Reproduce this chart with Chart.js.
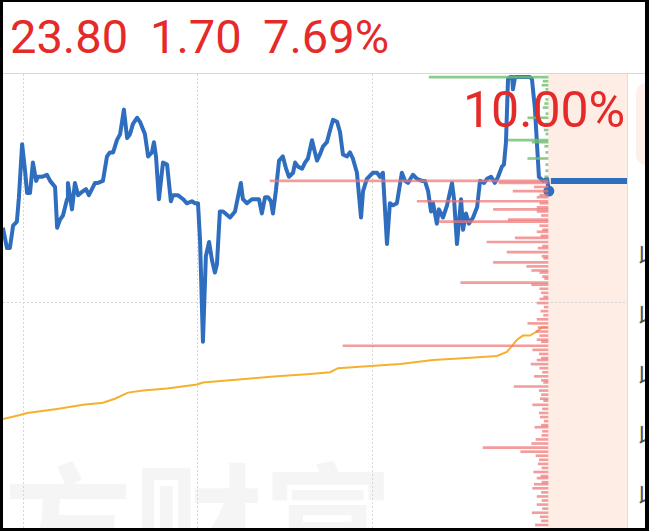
<!DOCTYPE html>
<html>
<head>
<meta charset="utf-8">
<script src="https://cdn.jsdelivr.net/npm/chart.js@4.4.1/dist/chart.umd.min.js"></script>
<style>
    html, body { margin: 0; padding: 0; background: #000; }
    #frame { position: absolute; left: 3px; top: 2px; width: 642px; height: 526px; background: #fff; overflow: hidden; font-family: Roboto, sans-serif; }
    .quote { position: absolute; top: 11px; font-size: 47px; line-height: 47px; color: #e52a2a; white-space: nowrap; }
    #limit { position: absolute; left: 460px; top: 83px; font-size: 50px; line-height: 50px; color: #e52a2a; white-space: nowrap; }
    #sep { position: absolute; left: 0; top: 71px; width: 642px; height: 1px; background: #d8d8d8; }
    #edge { position: absolute; left: 624px; top: 72px; width: 1px; height: 454px; background: #dedede; }
    #tag { position: absolute; left: 633px; top: 81px; width: 40px; height: 82px; border-radius: 10px; background: #fdefe9; }
    .side { position: absolute; left: 634px; font-size: 24px; line-height: 24px; color: #555; font-family: "Noto Sans CJK SC", sans-serif; }
    #chart { position: absolute; left: 0; top: 72px; }
</style>
</head>
<body>
<div id="frame">
    <span class="quote" id="qPrice" style="left:7px"></span>
    <span class="quote" id="qChange" style="left:147px"></span>
    <span class="quote" id="qPct" style="left:260px"></span>
    <div id="sep"></div>
    <canvas id="chart" width="624" height="454"></canvas>
    <div id="edge"></div>
    <div id="tag"></div>
    <div id="limit"></div>
</div>
<script>
// quote shown in the header
const lastPrice = 23.80;
const prevClose = 22.10;
const change = 1.70;
const changePct = 7.69;
const limitPct = 10.00;

// intraday price line (minutes from the first grid line, price)
const priceMinutes = [
    -6.9, -5.5, -4.5, -3.4, -2.1, -1.4, -0.3, 0.7, 1.4, 2.4,
    3.4, 4.5, 5.1, 6.5, 8.2, 9.3, 11.0, 11.7, 12.7, 13.7,
    15.1, 15.4, 16.8, 17.8, 18.9, 20.6, 21.6, 22.6, 24.7, 25.7,
    27.4, 28.8, 29.8, 30.9, 32.2, 33.3, 34.6, 35.7, 36.7, 37.7,
    39.1, 40.1, 41.8, 42.9, 44.2, 44.9, 45.6, 46.6, 48.0, 49.4,
    50.7, 51.4, 53.1, 54.9, 56.2, 57.9, 59.0, 60.0, 60.7, 61.7,
    62.7, 63.8, 64.8, 65.8, 66.5, 67.5, 68.6, 71.0, 72.7, 73.7,
    74.7, 75.4, 76.8, 78.5, 80.2, 80.9, 81.9, 83.0, 84.0, 85.0,
    85.7, 86.7, 87.8, 89.1, 90.2, 91.2, 92.6, 93.3, 94.3, 95.7,
    96.7, 97.7, 99.1, 100.1, 100.8, 101.8, 102.9, 104.2, 105.3, 106.3,
    107.7, 108.7, 109.7, 111.1, 112.1, 113.1, 114.5, 115.9, 116.6, 117.9,
    120.0, 121.4, 122.4, 123.4, 124.8, 125.8, 126.9, 128.2, 129.9, 131.0,
    132.0, 133.7, 135.1, 136.8, 137.8, 138.9, 139.9, 140.6, 141.9, 142.6,
    144.0, 145.4, 147.1, 147.8, 148.8, 150.2, 150.9, 151.9, 152.9, 154.3,
    155.7, 156.7, 158.1, 159.1, 160.5, 161.8, 162.9, 164.2, 164.9, 165.6,
    166.3, 167.0, 167.7, 168.0, 168.7, 169.7, 171.8, 173.8, 174.5, 175.5,
    176.2, 176.9, 178.3, 179.7, 180.3
];
const prices = [
    23.57, 23.47, 23.47, 23.58, 23.60, 23.72, 23.98, 23.85, 23.74, 23.74,
    23.89, 23.80, 23.82, 23.82, 23.83, 23.80, 23.77, 23.57, 23.61, 23.63,
    23.71, 23.79, 23.66, 23.79, 23.73, 23.75, 23.76, 23.73, 23.79, 23.79,
    23.80, 23.92, 23.94, 23.94, 24.00, 24.03, 24.15, 24.01, 24.03, 24.08,
    24.11, 24.09, 24.03, 23.92, 23.94, 23.99, 23.92, 23.71, 23.89, 23.88,
    23.70, 23.73, 23.73, 23.71, 23.69, 23.70, 23.69, 23.69, 23.51, 23.01,
    23.43, 23.50, 23.41, 23.35, 23.39, 23.65, 23.65, 23.62, 23.65, 23.72,
    23.79, 23.71, 23.69, 23.71, 23.71, 23.71, 23.64, 23.72, 23.72, 23.70,
    23.64, 23.75, 23.90, 23.92, 23.86, 23.82, 23.84, 23.89, 23.87, 23.86,
    23.89, 23.91, 24.00, 23.94, 23.90, 23.93, 23.97, 23.99, 24.05, 24.10,
    24.09, 24.04, 23.93, 23.92, 23.94, 23.91, 23.84, 23.62, 23.75, 23.81,
    23.84, 23.84, 23.82, 23.84, 23.49, 23.69, 23.68, 23.69, 23.84, 23.80,
    23.79, 23.83, 23.81, 23.80, 23.80, 23.75, 23.65, 23.69, 23.59, 23.66,
    23.62, 23.68, 23.79, 23.71, 23.49, 23.71, 23.56, 23.64, 23.59, 23.62,
    23.67, 23.80, 23.79, 23.81, 23.82, 23.79, 23.82, 23.87, 23.88, 23.99,
    24.30, 24.31, 24.31, 24.25, 24.31, 24.31, 24.31, 24.31, 24.30, 24.16,
    23.99, 23.82, 23.80, 23.81, 23.75
];

// average price line
const avgMinutes = [
    -6.9, -1.0, 1.4, 11.7, 20.6, 27.4, 31.5, 36.0, 41.1, 49.4,
    59.7, 61.7, 69.9, 87.1, 97.4, 105.3, 108.0, 117.9, 129.3, 140.6,
    152.2, 162.5, 165.9, 167.7, 169.4, 171.4, 173.8, 176.2, 177.9, 180.0
];
const avgPrices = [
    22.63, 22.65, 22.66, 22.68, 22.70, 22.71, 22.73, 22.76, 22.77, 22.78,
    22.80, 22.81, 22.82, 22.84, 22.85, 22.86, 22.88, 22.89, 22.90, 22.92,
    22.93, 22.94, 22.96, 22.99, 23.02, 23.04, 23.04, 23.06, 23.08, 23.08
];

// chip distribution below the last price (price, size)
const redChipPrices = [
    23.80, 23.79, 23.77, 23.75, 23.73, 23.72, 23.70, 23.69, 23.67, 23.66,
    23.65, 23.63, 23.61, 23.60, 23.58, 23.56, 23.55, 23.53, 23.52, 23.50,
    23.48, 23.47, 23.45, 23.43, 23.42, 23.40, 23.38, 23.36, 23.35, 23.33,
    23.32, 23.30, 23.29, 23.27, 23.25, 23.23, 23.22, 23.20, 23.18, 23.16,
    23.14, 23.12, 23.10, 23.08, 23.06, 23.04, 23.02, 23.01, 22.99, 22.97,
    22.95, 22.93, 22.92, 22.90, 22.88, 22.86, 22.84, 22.82, 22.81, 22.79,
    22.77, 22.75, 22.73, 22.72, 22.70, 22.68, 22.66, 22.64, 22.62, 22.60,
    22.59, 22.57, 22.55, 22.53, 22.51, 22.49, 22.47, 22.45, 22.43, 22.41,
    22.39, 22.37, 22.35, 22.34, 22.32, 22.31, 22.29, 22.27, 22.25, 22.23,
    22.21, 22.19, 22.17, 22.15, 22.13, 22.11
];
const redChipSizes = [
    51.0, 9.0, 2.5, 6.4, 1.5, 2.0, 24.0, 1.5, 2.0, 10.0,
    2.0, 1.2, 7.3, 20.0, 1.5, 1.0, 2.0, 1.3, 6.0, 11.2,
    1.0, 1.8, 7.5, 1.1, 0.8, 10.0, 3.9, 3.0, 1.5, 1.0,
    0.6, 16.0, 3.0, 1.5, 1.2, 0.8, 1.5, 2.0, 0.7, 1.3,
    0.8, 2.0, 3.7, 1.8, 2.2, 1.5, 2.0, 1.2, 37.6, 2.8,
    1.6, 1.2, 2.0, 3.1, 1.5, 1.0, 2.5, 1.2, 0.8, 6.2,
    1.6, 1.2, 1.4, 0.8, 2.8, 1.0, 1.6, 1.4, 0.7, 1.2,
    2.4, 1.0, 1.1, 2.2, 3.0, 11.9, 5.0, 2.2, 1.6, 1.8,
    1.1, 2.6, 1.3, 2.0, 1.1, 2.5, 2.8, 1.2, 2.0, 1.1,
    2.0, 1.0, 2.9, 1.4, 1.2, 2.3
];

// chip distribution above the last price
const greenChipPrices = [
    24.31, 24.29, 24.27, 24.25, 24.23, 24.20, 24.18, 24.16, 24.13, 24.11,
    24.08, 24.05, 24.03, 24.00, 23.99, 23.97, 23.94, 23.91, 23.88, 23.85,
    23.82
];
const greenChipSizes = [
    21.8, 0.9, 1.1, 0.4, 0.6, 0.4, 0.6, 0.9, 0.4, 3.7,
    0.4, 0.7, 0.4, 7.3, 2.9, 0.6, 0.4, 3.7, 0.4, 0.4,
    0.6
];

// dotted grid lines
const gridMinutes = [0, 60, 120];
const gridPrices = [23.205];
const closeMinute = 180;

const xMin = -6.86;
const xMax = 207.1;

document.getElementById('qPrice').textContent = lastPrice.toFixed(2);
document.getElementById('qChange').textContent = change.toFixed(2);
document.getElementById('qPct').textContent = changePct.toFixed(2) + '%';
document.getElementById('limit').textContent = limitPct.toFixed(2) + '%';

// grey glyphs of the clipped side panel
['以', '以', '以', '以', '以'].forEach((ch, i) => {
    const el = document.createElement('div');
    el.className = 'side';
    el.style.top = (240 + i * 60) + 'px';
    el.textContent = ch;
    document.getElementById('frame').appendChild(el);
});

const toPoints = (xs, ys) => xs.map((x, i) => ({ x: x, y: ys[i] }));
const toBars = (ps, sizes) => ps.map((p, i) => ({ x: sizes[i], y: p }));

/* watermark and the shaded after-close area, under everything else */
const backdrop = {
    id: 'backdrop',
    beforeDraw(chart) {
        const { ctx, chartArea, scales } = chart;
        const left = scales.x.getPixelForValue(closeMinute);

        ctx.save();
        ctx.fillStyle = '#fdede5';
        ctx.fillRect(left, chartArea.top, chartArea.right - left, chartArea.bottom - chartArea.top);
        ctx.font = 'bold 130px "Noto Sans CJK SC"';
        ctx.fillStyle = 'rgba(0, 0, 0, 0.04)';
        ctx.fillText('方财富', 0, 499);
        ctx.restore();
    }
};

const lastIndex = prices.length - 1;

new Chart(document.getElementById('chart'), {
    type: 'line',
    data: {
        datasets: [
            {
                type: 'bar',
                indexAxis: 'y',
                xAxisID: 'chip',
                yAxisID: 'y',
                data: toBars(redChipPrices, redChipSizes),
                backgroundColor: 'rgba(239, 118, 118, 0.72)',
                borderWidth: 0,
                barThickness: 2,
                grouped: false,
                order: 0
            },
            {
                type: 'bar',
                indexAxis: 'y',
                xAxisID: 'chip',
                yAxisID: 'y',
                data: toBars(greenChipPrices, greenChipSizes),
                backgroundColor: 'rgba(110, 190, 110, 0.8)',
                borderWidth: 0,
                barThickness: 2,
                grouped: false,
                order: 0
            },
            {
                data: [{ x: closeMinute + 1, y: lastPrice }, { x: xMax, y: lastPrice }],
                borderColor: '#2f6ebf',
                borderWidth: 6,
                pointRadius: 0,
                order: 1
            },
            {
                data: toPoints(priceMinutes, prices),
                borderColor: '#2f6ebf',
                backgroundColor: '#2f6ebf',
                borderWidth: 4,
                borderJoinStyle: 'round',
                pointRadius: (ctx) => ctx.dataIndex === lastIndex ? 3.5 : 0,
                order: 2
            },
            {
                data: toPoints(avgMinutes, avgPrices),
                borderColor: '#f4b12f',
                borderWidth: 2,
                pointRadius: 0,
                order: 3
            }
        ]
    },
    options: {
        responsive: false,
        animation: false,
        layout: { padding: 0, autoPadding: false },
        plugins: {
            legend: { display: false },
            tooltip: { enabled: false }
        },
        scales: {
            x: {
                type: 'linear',
                min: xMin,
                max: xMax,
                offset: false,
                afterBuildTicks: (scale) => { scale.ticks = gridMinutes.map((v) => ({ value: v })); },
                ticks: { display: false },
                grid: { color: '#d6d6d6', drawTicks: false, offset: false },
                border: { display: false, dash: [2, 2] }
            },
            y: {
                type: 'linear',
                min: prevClose - 0.005,
                max: prevClose * (1 + limitPct / 100) + 0.015,
                offset: false,
                afterBuildTicks: (scale) => { scale.ticks = gridPrices.map((v) => ({ value: v })); },
                ticks: { display: false },
                grid: { color: '#d6d6d6', drawTicks: false, offset: false },
                border: { display: false, dash: [2, 2] }
            },
            chip: {
                type: 'linear',
                axis: 'x',
                display: false,
                reverse: true,
                offset: false,
                beginAtZero: false,
                min: -14.5,
                max: 100
            }
        }
    },
    plugins: [backdrop]
});
</script>
</body>
</html>
